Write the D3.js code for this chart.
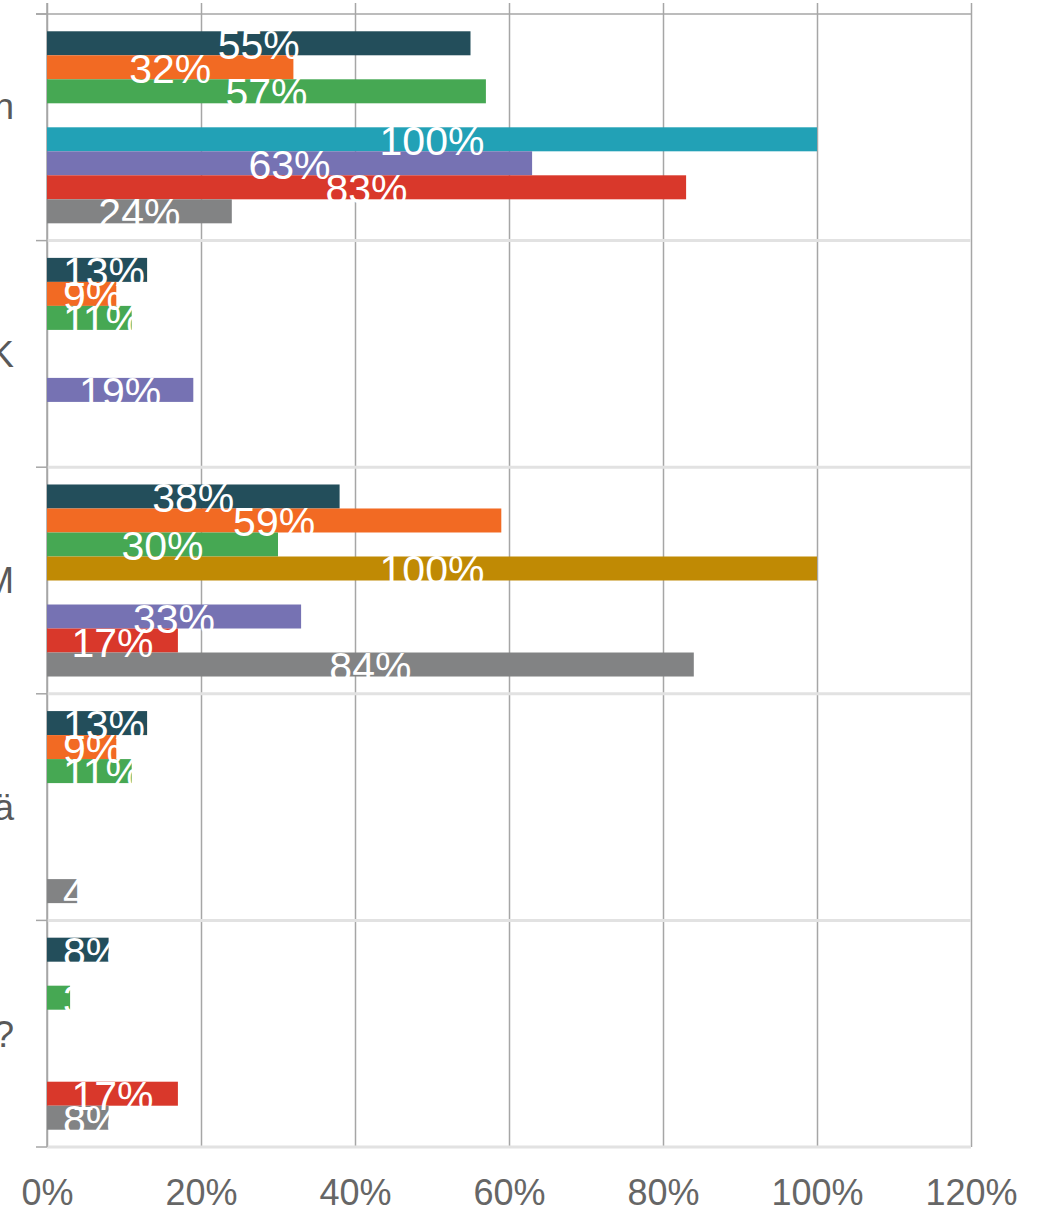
<!DOCTYPE html>
<html>
<head>
<meta charset="utf-8">
<script src="https://cdn.jsdelivr.net/npm/d3@7"></script>
<style>
  body { margin: 0; background: #fff; }
  svg { display: block; font-family: 'Liberation Sans', Arial, sans-serif; }
</style>
</head>
<body>
<div id="chart"></div>
<script>
const categories = [
  ['Tuotannonohjaus ja toiminnan', 'suunnittelu'],
  ['Tuotekehitys T&K'],
  ['Asiakkuudenhallinta CRM'],
  ['Jokin muu järjestelmä'],
  ['Muu, mikä?'],
]
const catKeys = categories.map((c) => c.join(' '))

const seriesNames = ['Sarja 1', 'Sarja 2', 'Sarja 3', 'Sarja 4', 'Sarja 5', 'Sarja 6', 'Sarja 7', 'Sarja 8']
const colors = ['#234e5b', '#f26a23', '#46a853', '#c08a04', '#22a1b6', '#7672b3', '#d9382b', '#828384']

// values in %, null = no bar
const s1 = [55, 13, 38, 13, 8]
const s2 = [32, 9, 59, 9, null]
const s3 = [57, 11, 30, 11, 3]
const s4 = [null, null, 100, null, null]
const s5 = [100, null, null, null, null]
const s6 = [63, 19, 33, null, null]
const s7 = [83, null, 17, null, 17]
const s8 = [24, null, 84, 4, 8]
const seriesValues = [s1, s2, s3, s4, s5, s6, s7, s8]

const xTicks = [0, 20, 40, 60, 80, 100, 120]

const render = () => {
  const width = 1048
  const height = 1210
  const plot = { left: 47, right: 971, top: 14, bottom: 1147 }

  const svg = d3
    .select('#chart')
    .append('svg')
    .attr('width', width)
    .attr('height', height)

  const xScale = d3.scaleLinear().domain([0, 120]).range([plot.left, plot.right])

  const yScale = d3
    .scaleBand()
    .domain(catKeys)
    .range([plot.top, plot.bottom])
    .padding(0)

  const ySeries = d3
    .scaleBand()
    .domain(seriesNames)
    .range([0, yScale.bandwidth()])
    .paddingInner(0)
    .paddingOuter(0.72)

  // x axis + vertical gridlines
  const xAxis = d3
    .axisBottom(xScale)
    .tickValues(xTicks)
    .tickFormat((d) => d + '%')
    .tickSizeInner(-(plot.bottom - 3))
    .tickSizeOuter(0)
    .tickPadding(32)

  const gx = svg
    .append('g')
    .attr('transform', `translate(0, ${plot.bottom})`)
    .call(xAxis)
  gx.select('.domain').remove()
  gx.selectAll('line').attr('stroke', '#a6a6a6').attr('stroke-width', 1.5)
  gx.selectAll('text')
    .attr('fill', '#666')
    .style('font-size', '36px')
    .style('font-family', "'Liberation Sans', Arial, sans-serif")

  // top line
  svg
    .append('line')
    .attr('x1', plot.left - 11)
    .attr('x2', plot.right)
    .attr('y1', plot.top)
    .attr('y2', plot.top)
    .attr('stroke', '#a6a6a6')
    .attr('stroke-width', 1.5)

  // category separators
  const bounds = catKeys.map((c) => yScale(c) + yScale.bandwidth())
  svg
    .selectAll('.sep')
    .data(bounds)
    .enter()
    .append('line')
    .attr('class', 'sep')
    .attr('x1', plot.left)
    .attr('x2', plot.right)
    .attr('y1', (d) => d)
    .attr('y2', (d) => d)
    .attr('stroke', '#e2e2e2')
    .attr('stroke-width', 3)

  // y axis line and ticks
  svg
    .append('line')
    .attr('x1', plot.left)
    .attr('x2', plot.left)
    .attr('y1', 3)
    .attr('y2', plot.bottom)
    .attr('stroke', '#a6a6a6')
    .attr('stroke-width', 1.5)
  svg
    .selectAll('.ytick')
    .data([plot.top].concat(bounds))
    .enter()
    .append('line')
    .attr('class', 'ytick')
    .attr('x1', plot.left - 11)
    .attr('x2', plot.left)
    .attr('y1', (d) => d)
    .attr('y2', (d) => d)
    .attr('stroke', '#a6a6a6')
    .attr('stroke-width', 1.5)

  // category labels (mostly off the left edge)
  categories.forEach((lines, i) => {
    const cy = yScale(catKeys[i]) + yScale.bandwidth() / 2
    const t = svg
      .append('text')
      .attr('fill', '#595959')
      .attr('text-anchor', 'end')
      .style('font-size', '37px')
    lines.forEach((ln, j) => {
      const off = (j - (lines.length - 1) / 2) * 43
      t.append('tspan')
        .attr('x', j === 0 ? 14 : -60)
        .attr('y', cy + off)
        .attr('dy', '0.35em')
        .text(ln)
    })
  })

  // bars
  const bars = []
  seriesValues.forEach((vals, si) => {
    vals.forEach((v, ci) => {
      if (v != null) bars.push({ s: seriesNames[si], color: colors[si], cat: catKeys[ci], v })
    })
  })

  svg
    .selectAll('.bar')
    .data(bars)
    .enter()
    .append('rect')
    .attr('class', 'bar')
    .attr('x', xScale(0))
    .attr('y', (d) => yScale(d.cat) + ySeries(d.s))
    .attr('width', (d) => xScale(d.v) - xScale(0))
    .attr('height', ySeries.bandwidth())
    .attr('fill', (d) => d.color)

  // value labels
  svg
    .selectAll('.lbl')
    .data(bars)
    .enter()
    .append('text')
    .attr('class', 'lbl')
    .attr('fill', '#fff')
    .style('font-size', '41px')
    .attr('y', (d) => yScale(d.cat) + ySeries(d.s) + ySeries.bandwidth() / 2 + 16)
    .text((d) => d.v + '%')
    .each(function (d) {
      const w = this.getComputedTextLength()
      const cx = (xScale(0) + xScale(d.v)) / 2
      d3.select(this).attr('x', Math.max(cx - w / 2, xScale(0) + 16))
    })
}

render()
</script>
</body>
</html>
